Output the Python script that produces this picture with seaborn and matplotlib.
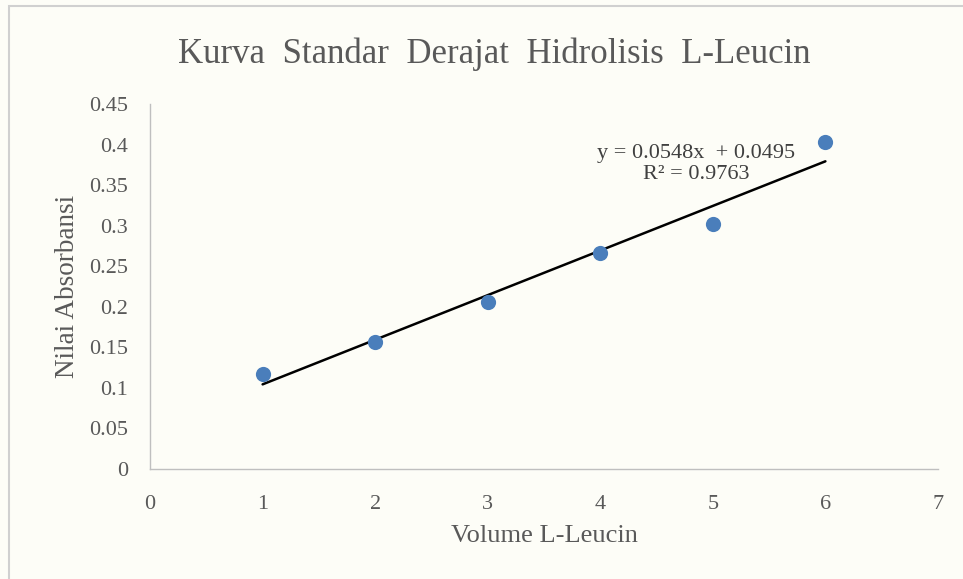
import matplotlib
matplotlib.use("Agg")
import matplotlib.pyplot as plt
import seaborn as sns
import pandas as pd
from matplotlib.patches import Rectangle

volume = [1, 2, 3, 4, 5, 6]
absorbansi = [0.117, 0.157, 0.206, 0.266, 0.302, 0.403]
x_ticks = [0, 1, 2, 3, 4, 5, 6, 7]
y_ticks = [0, 0.05, 0.1, 0.15, 0.2, 0.25, 0.3, 0.35, 0.4, 0.45]
y_tick_labels = ["0", "0.05", "0.1", "0.15", "0.2", "0.25", "0.3", "0.35", "0.4", "0.45"]

df = pd.DataFrame({"volume": volume, "absorbansi": absorbansi})

sns.set_style("white")
plt.rcParams["font.family"] = ["Liberation Serif", "DejaVu Serif"]

bg = "#fdfdf7"
text_col = "#595959"

fig = plt.figure(figsize=(9.63, 5.79), dpi=100, facecolor=bg)
ax = fig.add_axes([0.1558, 0.19, 0.8182, 0.6304])
ax.set_facecolor(bg)

# chart border like the excel frame
fig.patches.append(Rectangle((0.009, -0.01), 1.0, 1.0, transform=fig.transFigure,
                             fill=False, edgecolor="#d0d0d0", linewidth=1.5))

sns.regplot(data=df, x="volume", y="absorbansi", ci=None, scatter=False, truncate=True,
            line_kws={"color": "black", "linewidth": 1.8}, ax=ax)
sns.scatterplot(data=df, x="volume", y="absorbansi", s=120, color="#4a7ebb",
                edgecolor="#4a7ebb", linewidth=0, ax=ax, zorder=3)

ax.set_xlim(0, 7)
ax.set_ylim(0, 0.45)
ax.set_xticks(x_ticks)
ax.set_yticks(y_ticks)
ax.set_yticklabels(y_tick_labels)
ax.tick_params(axis="both", length=0, labelsize=16, colors=text_col)
ax.tick_params(axis="x", pad=19)
ax.tick_params(axis="y", pad=16)

for side in ["top", "right"]:
    ax.spines[side].set_visible(False)
for side in ["left", "bottom"]:
    ax.spines[side].set_color("#bfbfbf")
    ax.spines[side].set_linewidth(1.0)

ax.set_xlabel("Volume L-Leucin", fontsize=19, color=text_col, labelpad=8)
ax.set_ylabel("Nilai Absorbansi", fontsize=19.5, color=text_col, labelpad=6)
fig.text(0.513, 0.907, "Kurva  Standar  Derajat  Hidrolisis  L-Leucin",
         ha="center", va="center", fontsize=25, color=text_col)

ax.text(4.85, 0.376, "y = 0.0548x  + 0.0495\nR\u00b2 = 0.9763", ha="center", va="center",
        fontsize=16, color="#404040", linespacing=1.2)

plt.savefig("out.png", dpi=100, facecolor=bg)
